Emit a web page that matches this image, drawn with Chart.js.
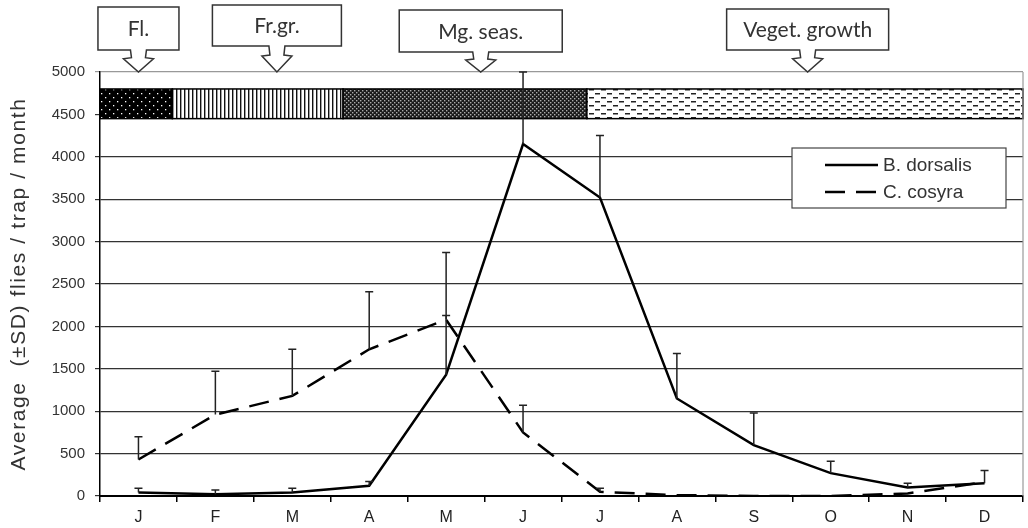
<!DOCTYPE html>
<html>
<head>
<meta charset="utf-8">
<script src="https://cdn.jsdelivr.net/npm/chart.js@4/dist/chart.umd.min.js"></script>
<style>
html,body{margin:0;padding:0;background:#fff;}
canvas{display:block;}
</style>
</head>
<body>
<canvas id="c" width="1028" height="528"></canvas>
<script>
// ---- data ----
const months = ['J','F','M','A','M','J','J','A','S','O','N','D'];
const dorsalisMean = [40, 20, 40, 120, 1430, 4150, 3520, 1150, 600, 270, 100, 150];
const dorsalisSD   = [50, 50, 50, 50, 1440, 850, 730, 530, 380, 140, 50, 150];
const cosyraMean   = [430, 960, 1180, 1730, 2080, 750, 50, 10, 0, 0, 30, 165];
const cosyraSD     = [270, 510, 550, 680, 50, 320, 40, 0, 0, 0, 0, 0];
const yTicks = [0,500,1000,1500,2000,2500,3000,3500,4000,4500,5000];
const yTitle = 'Average  (±SD) flies / trap / month';
// seasonal phases: start/end in month-index units, band from 4450 to 4800
const seasonNames = ['Fl.', 'Fr.gr.', 'Mg. seas.', 'Veget. growth'];
const seasonStart = [-0.5, 0.44, 2.66, 5.83];
const seasonEnd   = [0.44, 2.66, 5.83, 11.5];
const calloutAt   = [0, 1.8, 4.45, 8.7];
const bandRange   = [4450, 4800];

function makePattern(kind){
  const c = document.createElement('canvas');
  const g = c.getContext('2d');
  if(kind===0){ // black with white dots
    c.width=8; c.height=8;
    g.fillStyle='#000'; g.fillRect(0,0,8,8);
    g.fillStyle='#fff';
    g.fillRect(1,1,1.3,1.3); g.fillRect(5,5,1.3,1.3);
  } else if(kind===1){ // vertical lines
    c.width=4; c.height=4;
    g.fillStyle='#fff'; g.fillRect(0,0,4,4);
    g.fillStyle='#111'; g.fillRect(0,0,1.4,4);
  } else if(kind===2){ // dense checker
    c.width=4; c.height=4;
    g.fillStyle='#1a1a1a'; g.fillRect(0,0,4,4);
    g.fillStyle='#aaa'; g.fillRect(0,0,1.4,1.4); g.fillRect(2,2,1.4,1.4);
  } else { // dashed horizontal
    c.width=12; c.height=8;
    g.fillStyle='#fff'; g.fillRect(0,0,12,8);
    g.fillStyle='#222'; g.fillRect(1,1,5,1.5); g.fillRect(7,5,5,1.5);
  }
  return document.getElementById('c').getContext('2d').createPattern(c,'repeat');
}

const bandPlugin = {
  id:'bands',
  beforeDatasetsDraw(chart){
    const ctx=chart.ctx, xs=chart.scales.x, ys=chart.scales.y;
    const step = xs.getPixelForValue(1)-xs.getPixelForValue(0);
    const x0 = xs.getPixelForValue(0);
    const yTop = ys.getPixelForValue(bandRange[1]);
    const yBot = ys.getPixelForValue(bandRange[0]);
    ctx.save();
    for(let i=0;i<seasonNames.length;i++){
      const a = x0 + seasonStart[i]*step, b = x0 + seasonEnd[i]*step;
      ctx.fillStyle = makePattern(i);
      ctx.fillRect(a, yTop, b-a, yBot-yTop);
      ctx.strokeStyle='#000'; ctx.lineWidth=1.5;
      ctx.strokeRect(a, yTop, b-a, yBot-yTop);
    }
    ctx.strokeStyle='#999'; ctx.lineWidth=1.2;
    ctx.beginPath(); ctx.moveTo(chart.chartArea.right, chart.chartArea.top); ctx.lineTo(chart.chartArea.right, chart.chartArea.bottom); ctx.stroke();
    ctx.restore();
  }
};

const errPlugin = {
  id:'errbars',
  afterDatasetsDraw(chart){
    const ctx=chart.ctx, xs=chart.scales.x, ys=chart.scales.y;
    const sets = [[dorsalisMean, dorsalisSD],[cosyraMean, cosyraSD]];
    ctx.save();
    ctx.strokeStyle='#222'; ctx.lineWidth=1.5;
    sets.forEach(([m,s])=>{
      m.forEach((v,i)=>{
        if(!s[i]) return;
        const x = xs.getPixelForValue(i);
        const y1 = ys.getPixelForValue(v), y2 = ys.getPixelForValue(v+s[i]);
        ctx.beginPath(); ctx.moveTo(x,y1); ctx.lineTo(x,y2);
        ctx.moveTo(x-4,y2); ctx.lineTo(x+4,y2); ctx.stroke();
      });
    });
    ctx.restore();
  },
  afterDraw(chart){
    const ctx=chart.ctx, xs=chart.scales.x, ca=chart.chartArea;
    ctx.save();
    // y-axis title
    ctx.save();
    ctx.translate(19, (ca.top+ca.bottom)/2);
    ctx.rotate(-Math.PI/2);
    ctx.font='21px "Liberation Sans", Arial, sans-serif';
    if('letterSpacing' in ctx) ctx.letterSpacing='1.6px';
    ctx.fillStyle='#333'; ctx.textAlign='center'; ctx.textBaseline='middle';
    ctx.fillText(yTitle, 0, 0);
    ctx.restore();
    // legend
    const lx = ca.right-231, ly = 148, lw = 214, lh = 60;
    ctx.fillStyle='#fff'; ctx.fillRect(lx,ly,lw,lh);
    ctx.strokeStyle='#444'; ctx.lineWidth=1.2; ctx.strokeRect(lx,ly,lw,lh);
    ctx.font='19px "Liberation Sans", Arial, sans-serif';
    ctx.fillStyle='#333'; ctx.textBaseline='middle';
    chart.data.datasets.forEach((d,i)=>{
      const yy = ly + 17 + i*27;
      ctx.strokeStyle='#000'; ctx.lineWidth=2.5;
      ctx.setLineDash(d.borderDash||[]);
      ctx.beginPath(); ctx.moveTo(lx+33,yy); ctx.lineTo(lx+86,yy); ctx.stroke();
      ctx.setLineDash([]);
      ctx.fillText(d.label, lx+91, yy+1);
    });
    // callouts
    const widths = [81, 129, 163, 162];
    const tops = [7, 5, 10, 9];
    const bottoms = [50, 46, 52, 50];
    ctx.font='21px Lato, "Open Sans", sans-serif';
    ctx.textAlign='center';
    seasonNames.forEach((name,i)=>{
      const cx = xs.getPixelForValue(calloutAt[i]);
      const w = widths[i], t = tops[i], b = bottoms[i];
      const tip = ca.top;
      const mid = b + (tip-b)*0.35;
      ctx.beginPath();
      ctx.moveTo(cx-w/2, t); ctx.lineTo(cx+w/2, t); ctx.lineTo(cx+w/2, b);
      ctx.lineTo(cx+8, b); ctx.lineTo(cx+7, mid); ctx.lineTo(cx+15, mid+1);
      ctx.lineTo(cx, tip);
      ctx.lineTo(cx-15, mid+1); ctx.lineTo(cx-7, mid); ctx.lineTo(cx-8, b);
      ctx.lineTo(cx-w/2, b); ctx.closePath();
      ctx.fillStyle='#fff'; ctx.fill();
      ctx.strokeStyle='#333'; ctx.lineWidth=1.5; ctx.stroke();
      ctx.fillStyle='#333';
      ctx.fillText(name, cx, (t+b)/2 + 1);
    });
    ctx.restore();
  }
};

new Chart(document.getElementById('c'), {
  type:'line',
  data:{
    labels: months,
    datasets:[
      {label:'B. dorsalis', data: dorsalisMean, borderColor:'#000', borderWidth:2.5, pointRadius:0, tension:0, fill:false},
      {label:'C. cosyra', data: cosyraMean, borderColor:'#000', borderWidth:2.5, borderDash:[20,11], pointRadius:0, tension:0, fill:false}
    ]
  },
  options:{
    responsive:false,
    animation:false,
    layout:{padding:{top:72, right:5, left:0, bottom:0}},
    plugins:{legend:{display:false}, tooltip:{enabled:false}},
    scales:{
      x:{
        offset:true,
        grid:{offset:true, drawOnChartArea:false, tickLength:6, color:'#000', lineWidth:1.5},
        border:{color:'#000', width:2},
        ticks:{color:'#222', font:{family:'"Liberation Sans", Arial, sans-serif', size:16}, padding:6},
        afterFit(s){ s.height = 32; }
      },
      y:{
        min:0, max:5000,
        afterBuildTicks(s){ s.ticks = yTicks.map(v=>({value:v})); },
        grid:{color:(c)=> c.tick && c.tick.value===5000 ? '#999' : '#333', lineWidth:1.2, tickLength:5},
        border:{color:'#000', width:1.5},
        ticks:{color:'#333', font:{family:'"Liberation Sans", Arial, sans-serif', size:15}, padding:10, callback:(v)=>String(v)},
        title:{display:false},
        afterFit(s){ s.width = 100; }
      }
    }
  },
  plugins:[bandPlugin, errPlugin]
});
</script>
</body>
</html>
